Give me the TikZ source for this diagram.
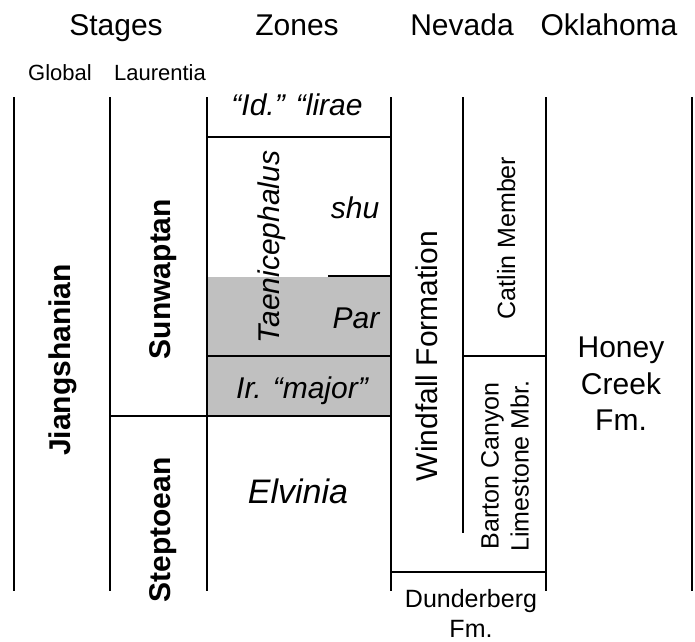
\documentclass[tikz,border=0pt]{standalone}
\usepackage{fontspec}
\setmainfont{Liberation Sans}
\usetikzlibrary{positioning}
\definecolor{zonegrey}{RGB}{192,192,192}
\begin{document}
\begin{tikzpicture}[x=1pt,y=-1pt,
    ln/.style={line width=2pt},
    fine/.style={line width=1.3pt},
    hd/.style={font=\fontsize{30}{36}\selectfont,anchor=base,inner sep=0},
    sub/.style={font=\fontsize{22}{26}\selectfont,anchor=base,inner sep=0},
    stage/.style={font=\fontsize{30}{36}\selectfont\bfseries,rotate=90,anchor=base,inner sep=0},
    zone/.style={font=\fontsize{30}{36}\selectfont\itshape,anchor=base,inner sep=0},
    unit/.style={font=\fontsize{30}{36}\selectfont,rotate=90,anchor=base,inner sep=0},
    mbr/.style={font=\fontsize{25}{30}\selectfont,inner sep=0,align=center}]
\useasboundingbox(0,0) rectangle (695,641);
\fill[zonegrey](207,277) rectangle (391,416);
% column lines
\foreach \x in {14,110,207,391,546,692}
    \draw[ln](\x,97)--(\x,591);
\draw[fine](463,97)--(463,533);
% boundaries
\draw[ln](207,137)--(391,137);
\draw[ln](328,276)--(391,276);
\draw[ln](207,356)--(391,356);
\draw[ln](110,416)--(391,416);
\draw[ln](463,356)--(546,356);
\draw[ln](391,572)--(546,572);
% headings
\node[hd](stages) at (116,35){Stages};
\node[hd](zones) at (297,35){Zones};
\node[hd](nevada) at (462,35){Nevada};
\node[hd](oklahoma) at (609,35){Oklahoma};
\node[sub](global) at (60,80){Global};
\node[sub](laurentia) at (160,80){Laurentia};
% stages
\node[stage](jiang) at (70,360){Jiangshanian};
\node[stage](sunw) at (170,279){Sunwaptan};
\node[stage](stept) at (170,530){Steptoean};
% zones
\node[zone](lirae) at (297,115){“Id.” “lirae};
\node[zone,rotate=90](taeni) at (279,247){Taenicephalus};
\node[zone](shu) at (355,218){shu};
\node[zone](par) at (356,328){Par};
\node[zone](major) at (302,398){Ir. “major”};
\node[zone,font=\fontsize{34}{40}\selectfont\itshape](elv) at (298,503){Elvinia};
% formations
\node[unit](windfall) at (437,356){Windfall Formation};
\node[unit,font=\fontsize{25}{30}\selectfont](catlin) at (515,238){Catlin Member};
\node[mbr,rotate=90](barton) at (505,466){Barton Canyon\\Limestone Mbr.};
\node[mbr,font=\fontsize{30}{36.5}\selectfont](honey) at (621,384){Honey\\Creek\\Fm.};
\node[mbr](dunder) at (471,613){Dunderberg\\Fm.};
\end{tikzpicture}
\end{document}
